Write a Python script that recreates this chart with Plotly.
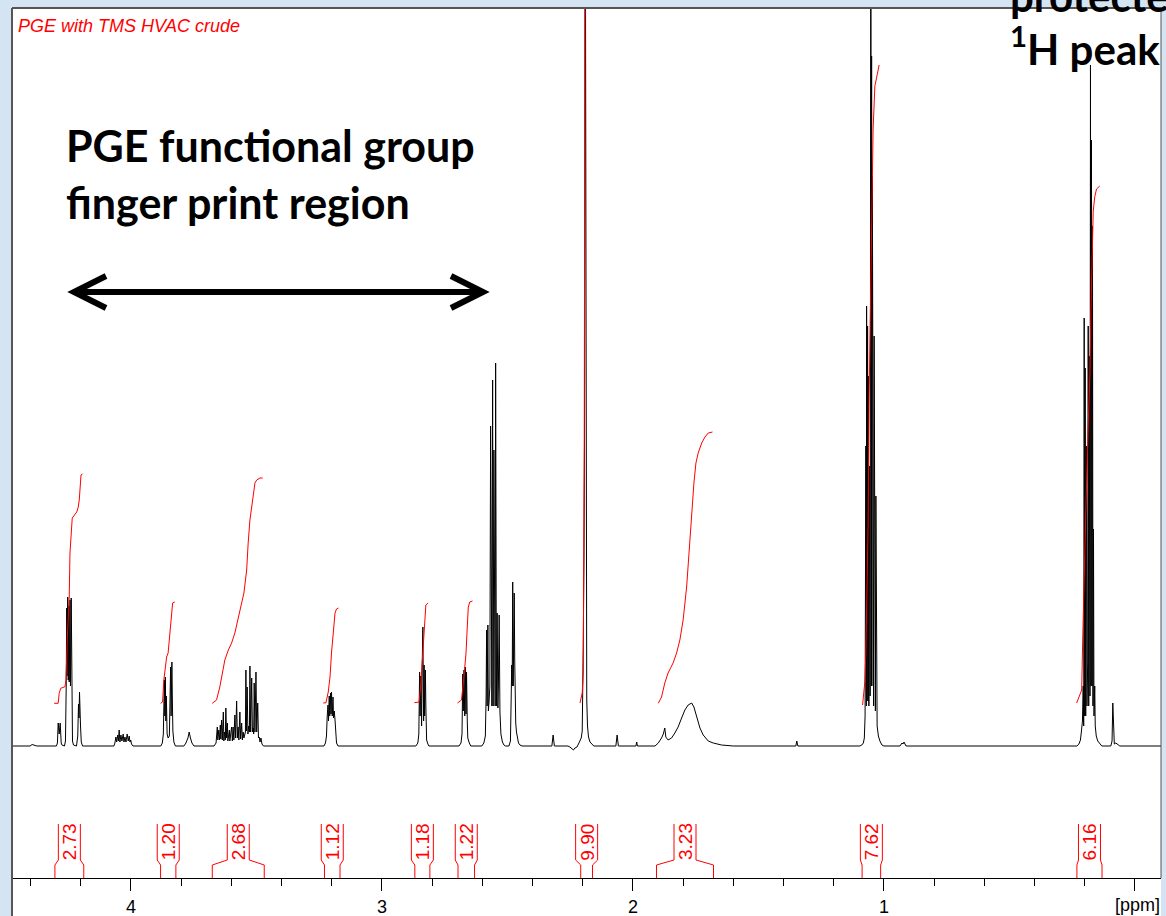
import plotly.graph_objects as go

# ---------------- data (ppm, intensity in arbitrary units, baseline = 0) ----------------
X_RANGE = [4.474, -0.104]
Y_RANGE = [-132, 738]

tick_vals = [0, 1, 2, 3, 4]
tick_text = ["", "1", "2", "3", "4"]

# spectrum segments (vertices)
noise_ppm = [4.402, 4.394, 4.383, 4.375]
noise_int = [0, 1.5, 1, 0]

m1_ppm = [4.315, 4.297, 4.293, 4.290, 4.286, 4.282, 4.278, 4.275, 4.265, 4.261, 4.258, 4.256, 4.255,
          4.252, 4.250, 4.248, 4.246, 4.243, 4.241, 4.238, 4.236, 4.233, 4.229, 4.217, 4.212, 4.209,
          4.207, 4.205, 4.201, 4.198, 4.193]
m1_int = [0, 0, 3, 23, 12, 23, 3, 1, 0, 5, 60, 138, 70, 149, 66, 140, 64, 146, 60, 148, 40, 5, 1, 0,
          10, 42, 28, 54, 20, 4, 0]

m2_ppm = [4.068, 4.064, 4.060, 4.057, 4.053, 4.050, 4.047, 4.044, 4.040, 4.036, 4.031, 4.028, 4.024,
          4.020, 4.015, 4.011, 4.007, 4.004, 4.001, 3.998, 3.992]
m2_int = [0, 3, 9, 4, 11, 5, 16, 4, 11, 5, 12, 4, 9, 4, 12, 5, 10, 4, 6, 2, 0]

m3_ppm = [3.881, 3.875, 3.871, 3.867, 3.865, 3.863, 3.861, 3.859, 3.856, 3.852, 3.847, 3.844, 3.842,
          3.840, 3.837, 3.835, 3.833, 3.829, 3.823]
m3_int = [0, 3, 12, 66, 30, 69, 25, 50, 12, 8, 10, 40, 79, 30, 84, 45, 15, 4, 0]

m4_ppm = [3.789, 3.781, 3.773, 3.768, 3.763, 3.757, 3.749]
m4_int = [0, 3, 8, 14, 8, 3, 0]

m5_ppm = [3.669, 3.661, 3.656, 3.654, 3.650, 3.647, 3.644, 3.642, 3.639, 3.636, 3.632, 3.630, 3.627,
          3.624, 3.622, 3.619, 3.616, 3.614, 3.608, 3.606, 3.603, 3.599, 3.596, 3.593, 3.590, 3.586,
          3.583, 3.579, 3.576, 3.573, 3.570, 3.566, 3.563, 3.559, 3.556, 3.553, 3.550, 3.547, 3.544,
          3.542, 3.540, 3.537, 3.534, 3.531, 3.528, 3.526, 3.523, 3.519, 3.516, 3.513, 3.511, 3.509,
          3.506, 3.502, 3.499, 3.495, 3.492, 3.489, 3.486, 3.482, 3.478, 3.472]
m5_int = [0, 3, 19, 6, 16, 6, 21, 7, 26, 6, 34, 5, 14, 6, 38, 8, 23, 5, 16, 5, 12, 19, 5, 19, 6, 31,
          8, 45, 8, 19, 6, 34, 7, 23, 6, 14, 8, 12, 14, 76, 15, 59, 12, 20, 14, 80, 14, 68, 14, 18, 12,
          63, 14, 74, 14, 43, 8, 9, 4, 8, 2, 0]

m6_ppm = [3.231, 3.225, 3.221, 3.218, 3.215, 3.213, 3.210, 3.208, 3.205, 3.203, 3.201, 3.198, 3.195,
          3.193, 3.190, 3.187, 3.184, 3.181, 3.175]
m6_int = [0, 3, 10, 30, 41, 25, 50, 30, 53, 32, 54, 30, 49, 28, 35, 26, 8, 3, 0]

m7_ppm = [2.865, 2.857, 2.853, 2.850, 2.848, 2.845, 2.842, 2.840, 2.837, 2.834, 2.832, 2.830, 2.827,
          2.825, 2.822, 2.817, 2.813]
m7_int = [0, 3, 12, 74, 30, 70, 20, 75, 119, 25, 81, 30, 76, 40, 6, 2, 0]

m8_ppm = [2.693, 2.685, 2.681, 2.678, 2.676, 2.673, 2.670, 2.668, 2.665, 2.663, 2.660, 2.658, 2.652, 2.646]
m8_int = [0, 3, 12, 72, 35, 76, 30, 79, 32, 74, 25, 8, 3, 0]

m9_ppm = [2.602, 2.594, 2.588, 2.585, 2.583, 2.581, 2.578, 2.576, 2.573, 2.570, 2.567, 2.564, 2.562,
          2.559, 2.557, 2.554, 2.552, 2.549, 2.547, 2.544, 2.541, 2.538, 2.536, 2.533, 2.530, 2.526,
          2.520, 2.514, 2.508]
m9_int = [0, 3, 10, 50, 116, 40, 121, 35, 45, 60, 320, 45, 40, 366, 40, 296, 42, 40, 383, 40, 133,
          38, 60, 131, 35, 12, 4, 1, 0]

m10_ppm = [2.494, 2.488, 2.485, 2.483, 2.481, 2.479, 2.477, 2.473, 2.471, 2.469, 2.467, 2.464, 2.461,
           2.456, 2.450, 2.442]
m10_int = [0, 5, 50, 81, 60, 164, 60, 153, 86, 40, 23, 14, 8, 3, 1, 0]

m11_ppm = [2.323, 2.318, 2.313]
m11_int = [0, 11, 0]

m12_ppm = [2.259, 2.251, 2.243, 2.237, 2.231, 2.223, 2.217, 2.211, 2.206, 2.202, 2.200, 2.198, 2.195,
           2.193, 2.190, 2.188, 2.186, 2.184, 2.181, 2.177, 2.171, 2.163, 2.156]
m12_int = [0, -1, -3, -4, -2, -1, 2, 5, 8, 15, 40, 100, 191, 300, 900, 500, 139, 46, 20, 9, 4, 2, 0]

m13_ppm = [2.068, 2.063, 2.058]
m13_int = [0, 11, 0]

m14_ppm = [1.988, 1.985, 1.982]
m14_int = [0, 4, 0]

m15_ppm = [1.912, 1.899, 1.886, 1.879, 1.873, 1.869, 1.860, 1.846, 1.833, 1.820, 1.806, 1.793, 1.780,
           1.766, 1.757, 1.746, 1.733, 1.720, 1.700, 1.680, 1.647, 1.600]
m15_int = [0, 3, 8, 12, 18, 9, 6, 8, 13, 19, 28, 36, 41, 43, 39, 29, 18, 11, 5, 3, 1, 0]

m16_ppm = [1.351, 1.347, 1.343]
m16_int = [0, 5, 0]

m17_ppm = [1.096, 1.088, 1.082, 1.078, 1.075, 1.072, 1.070, 1.069, 1.067, 1.065, 1.063, 1.062, 1.060,
           1.057, 1.055, 1.052, 1.050, 1.049, 1.048, 1.046, 1.044, 1.042, 1.041, 1.039, 1.037, 1.036,
           1.034, 1.032, 1.030, 1.027, 1.022, 1.016, 1.008, 1.000]
m17_int = [0, 1, 3, 8, 30, 300, 40, 440, 45, 420, 45, 370, 40, 280, 50, 900, 60, 690, 60, 570, 40,
           280, 40, 410, 40, 390, 35, 250, 40, 20, 10, 5, 1, 0]

m18_ppm = [0.936, 0.928, 0.924, 0.920, 0.912]
m18_int = [0, 3, 2, 4, 0]

m19_ppm = [0.231, 0.223, 0.217, 0.213, 0.209, 0.206, 0.204, 0.202, 0.200, 0.198, 0.196, 0.193, 0.191,
           0.188, 0.186, 0.184, 0.182, 0.179, 0.177, 0.175, 0.173, 0.171, 0.169, 0.167, 0.165, 0.163,
           0.160, 0.158, 0.154, 0.148, 0.140, 0.132]
m19_int = [0, 2, 6, 15, 25, 60, 20, 428, 30, 378, 30, 300, 40, 84, 420, 40, 390, 50, 681, 60, 606, 60,
           520, 40, 217, 30, 60, 20, 10, 5, 2, 0]

m20_ppm = [0.096, 0.091, 0.088, 0.085, 0.082, 0.076, 0.068, 0.060]
m20_int = [0, 5, 43, 10, 2, 3, 1, 0]

# integral curves (red)
i1_ppm = [4.306, 4.290, 4.286, 4.280, 4.263, 4.259, 4.254, 4.246, 4.243, 4.236, 4.234, 4.216, 4.210,
          4.206, 4.203, 4.199, 4.193]
i1_int = [42.7, 42.7, 52.7, 57.7, 59.3, 66, 106, 149, 193, 226, 228, 234, 239, 246, 259, 271, 272]
i2_ppm = [3.882, 3.874, 3.869, 3.865, 3.858, 3.852, 3.848, 3.842, 3.838, 3.834, 3.825]
i2_int = [42.7, 44, 66, 73, 89, 93, 106, 119, 139, 143, 144]
i3_ppm = [3.676, 3.659, 3.646, 3.635, 3.626, 3.612, 3.599, 3.586, 3.573, 3.559, 3.550, 3.539, 3.533,
          3.526, 3.519, 3.513, 3.506, 3.499, 3.486, 3.475]
i3_int = [42.7, 46, 59, 73, 86, 96, 103, 113, 129, 143, 153, 176, 203, 226, 239, 251, 263, 266, 268, 268]
i4_ppm = [3.234, 3.223, 3.214, 3.207, 3.201, 3.194, 3.187, 3.181, 3.173]
i4_int = [43, 43.3, 54, 69, 93, 116, 133, 137, 138]
i5_ppm = [2.871, 2.852, 2.846, 2.840, 2.833, 2.829, 2.825, 2.816]
i5_int = [43.3, 44, 59, 86, 116, 133, 141, 143]
i6_ppm = [2.699, 2.683, 2.672, 2.665, 2.660, 2.656, 2.650, 2.639]
i6_int = [43, 46, 73, 93, 119, 139, 144, 145]
i7_ppm = [2.211, 2.202, 2.198, 2.194, 2.190]
i7_int = [43, 53, 73, 300, 900]
i8_ppm = [1.899, 1.886, 1.873, 1.860, 1.840, 1.826, 1.813, 1.800, 1.786, 1.776, 1.766, 1.757, 1.749,
          1.740, 1.726, 1.713, 1.700, 1.683]
i8_int = [42.7, 49, 63, 73, 83, 93, 106, 126, 159, 196, 229, 263, 283, 293, 303, 309, 313, 314]
i9_ppm = [1.085, 1.076, 1.072, 1.063, 1.059, 1.053, 1.049, 1.047, 1.043, 1.036, 1.029, 1.019]
i9_int = [41, 64, 92, 221, 350, 436, 517, 565, 617, 660, 669, 681]
i10_ppm = [0.232, 0.212, 0.208, 0.203, 0.195, 0.186, 0.179, 0.175, 0.170, 0.166, 0.160, 0.153, 0.140]
i10_int = [43, 56, 106, 173, 240, 320, 374, 437, 500, 535, 549, 557, 560]

# integration regions and values
int_left = [4.303, 3.882, 3.676, 3.229, 2.869, 2.697, 2.208, 1.906, 1.087, 0.231]
int_right = [4.188, 3.821, 3.469, 3.167, 2.809, 2.631, 2.161, 1.679, 1.013, 0.131]
int_labels = ["2.73", "1.20", "2.68", "1.12", "1.18", "1.22", "9.90", "3.23", "7.62", "6.16"]

# ---------------- build figure ----------------
RED = "rgb(255,0,0)"
BLACK = "black"
FONT = "Liberation Sans, Arial, sans-serif"
BOLD_FONT = "Lato, Open Sans, sans-serif"

segments = [
    (noise_ppm, noise_int), (m1_ppm, m1_int), (m2_ppm, m2_int), (m3_ppm, m3_int), (m4_ppm, m4_int),
    (m5_ppm, m5_int), (m6_ppm, m6_int), (m7_ppm, m7_int), (m8_ppm, m8_int), (m9_ppm, m9_int),
    (m10_ppm, m10_int), (m11_ppm, m11_int), (m12_ppm, m12_int), (m13_ppm, m13_int), (m14_ppm, m14_int),
    (m15_ppm, m15_int), (m16_ppm, m16_int), (m17_ppm, m17_int), (m18_ppm, m18_int), (m19_ppm, m19_int),
    (m20_ppm, m20_int),
]
spec_x = [X_RANGE[0]]
spec_y = [0]
for sx, sy in segments:
    spec_x += sx
    spec_y += sy
spec_x.append(X_RANGE[1])
spec_y.append(0)

integrals = [(i1_ppm, i1_int), (i2_ppm, i2_int), (i3_ppm, i3_int), (i4_ppm, i4_int), (i5_ppm, i5_int),
             (i6_ppm, i6_int), (i7_ppm, i7_int), (i8_ppm, i8_int), (i9_ppm, i9_int), (i10_ppm, i10_int)]
int_x, int_y = [], []
for sx, sy in integrals:
    int_x += sx + [None]
    int_y += sy + [None]

# bracket geometry (style, in plot units)
PX_PER_PPM = 1149 / (X_RANGE[0] - X_RANGE[1])
half_w = 11 / PX_PER_PPM
y_axis, y_k1, y_k2, y_top = Y_RANGE[0], -119, -114, -78
br_x, br_y = [], []
for a, b in zip(int_left, int_right):
    c = (a + b) / 2
    br_x += [a, a, c + half_w, c + half_w, None, b, b, c - half_w, c - half_w, None]
    br_y += [y_axis, y_k1, y_k2, y_top, None, y_axis, y_k1, y_k2, y_top, None]

fig = go.Figure()
fig.add_trace(go.Scatter(x=spec_x, y=spec_y, mode="lines", line=dict(color=BLACK, width=1),
                         hoverinfo="skip", showlegend=False))
fig.add_trace(go.Scatter(x=int_x, y=int_y, mode="lines", line=dict(color=RED, width=1),
                         hoverinfo="skip", showlegend=False))
fig.add_trace(go.Scatter(x=br_x, y=br_y, mode="lines", line=dict(color=RED, width=1),
                         hoverinfo="skip", showlegend=False))

annotations = []
for a, b, lab in zip(int_left, int_right, int_labels):
    annotations.append(dict(x=(a + b) / 2, y=-96, xref="x", yref="y", text=lab, textangle=-90,
                            showarrow=False, font=dict(family=FONT, size=19, color=RED)))

H = 870.0
W = 1149.0
def px(x):
    return (x - 12) / W
def py(y):
    return (878 - y) / H

annotations += [
    dict(x=px(16), y=py(26), xref="paper", yref="paper", xanchor="left", yanchor="middle",
         text="<i>PGE with TMS HVAC crude</i>", showarrow=False,
         font=dict(family=FONT, size=18, color=RED)),
    dict(x=px(64), y=py(145), xref="paper", yref="paper", xanchor="left", yanchor="middle",
         text="<b>PGE functional group</b>", showarrow=False,
         font=dict(family=BOLD_FONT, size=43, color=BLACK)),
    dict(x=px(64), y=py(202), xref="paper", yref="paper", xanchor="left", yanchor="middle",
         text="<b>finger print region</b>", showarrow=False,
         font=dict(family=BOLD_FONT, size=43, color=BLACK)),
    dict(x=px(1008), y=py(-4), xref="paper", yref="paper", xanchor="left", yanchor="middle",
         text="<b>protected</b>", showarrow=False,
         font=dict(family=BOLD_FONT, size=42, color=BLACK)),
    dict(x=px(1008), y=py(46), xref="paper", yref="paper", xanchor="left", yanchor="middle",
         text="<b><sup>1</sup>H peak</b>", showarrow=False,
         font=dict(family=BOLD_FONT, size=42, color=BLACK)),
    dict(x=px(1137), y=py(905), xref="paper", yref="paper", xanchor="center", yanchor="middle",
         text="[ppm]", showarrow=False, font=dict(family=FONT, size=18, color=BLACK)),
]

shapes = [
    dict(type="rect", xref="paper", yref="paper", x0=0, x1=1, y0=py(916), y1=1,
         fillcolor="white", line=dict(width=0), layer="below"),
    dict(type="line", xref="paper", yref="paper", x0=0, x1=0, y0=py(916), y1=1,
         line=dict(color="#555555", width=2)),
    dict(type="line", xref="paper", yref="paper", x0=0, x1=1, y0=1, y1=1,
         line=dict(color="#555555", width=2)),
    dict(type="line", xref="paper", yref="paper", x0=1, x1=1, y0=0, y1=1,
         line=dict(color="#555555", width=1)),
    # double-headed arrow
    dict(type="line", xref="paper", yref="paper", x0=px(76), x1=px(481), y0=py(292), y1=py(292),
         line=dict(color=BLACK, width=6)),
    dict(type="path", xref="paper", yref="paper",
         path=f"M {px(106)} {py(276)} L {px(74)} {py(292)} L {px(106)} {py(308)}",
         line=dict(color=BLACK, width=6)),
    dict(type="path", xref="paper", yref="paper",
         path=f"M {px(451)} {py(276)} L {px(483)} {py(292)} L {px(451)} {py(308)}",
         line=dict(color=BLACK, width=6)),
]

fig.update_layout(
    width=1166, height=916,
    margin=dict(l=12, r=5, t=8, b=38, autoexpand=False),
    paper_bgcolor="#d5e4f3",
    plot_bgcolor="white",
    showlegend=False,
    annotations=annotations,
    shapes=shapes,
    xaxis=dict(range=X_RANGE, tickvals=tick_vals, ticktext=tick_text, ticks="outside", ticklen=12,
               tickwidth=1, tickcolor=BLACK, showline=True, linecolor=BLACK, linewidth=1,
               showgrid=False, zeroline=False, ticklabelstandoff=0,
               tickfont=dict(family=FONT, size=18, color=BLACK),
               minor=dict(dtick=0.2, tick0=0, ticks="outside", ticklen=7, tickcolor=BLACK, tickwidth=1,
                          showgrid=False)),
    yaxis=dict(range=Y_RANGE, visible=False, showgrid=False, zeroline=False),
)

fig.write_html("out.html", config={"displayModeBar": False},
               post_script="document.body.style.margin='0px';document.body.style.overflow='hidden';")
